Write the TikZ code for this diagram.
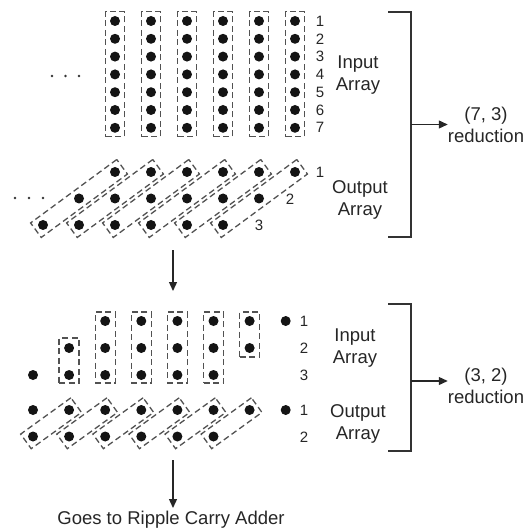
\documentclass[tikz,border=0pt]{standalone}
\usepackage{fontspec}
\setmainfont{Liberation Sans}
\usetikzlibrary{arrows.meta}
\begin{document}
\begin{tikzpicture}[x=1pt,y=-1pt,
  dot/.style={circle,fill=black!92,inner sep=0pt,minimum size=10pt},
  tinydot/.style={circle,fill=black!80,inner sep=0pt,minimum size=2.8pt},
  dbox/.style={draw=black!68,line width=1.3pt,dash pattern=on 6pt off 3.5pt,inner sep=0pt,rectangle},
  lbl/.style={font=\fontsize{18.5}{22}\selectfont,text=black!85,inner sep=0pt,align=center},
  num/.style={font=\fontsize{15}{16}\selectfont,text=black!85,inner sep=0pt},
  brk/.style={draw=black!80,line width=1.4pt},
  arr/.style={draw=black!85,line width=1.3pt,-{Triangle[width=8pt,length=9pt]}}]
\useasboundingbox (0,0) rectangle (532,529);

% ---------- top: input array ----------
\foreach \i in {0,...,5}{
  \node[dbox,minimum width=18.6pt,minimum height=125pt] (tib\i) at ({115+36*\i},74.2) {};
  \foreach \k in {0,...,6}{
    \node[dot] (ti\i-\k) at ({115+36*\i},{21+17.8*\k}) {};
  }
}
\foreach \k [evaluate=\k as \n using int(\k+1)] in {0,...,6}{
  \node[num] (tin\k) at (320,{21+17.8*\k}) {\n};
}
\node[tinydot] (tea) at (52,76) {};
\node[tinydot] (teb) at (65.5,76) {};
\node[tinydot] (tec) at (79,76) {};

% ---------- top: output array ----------
\foreach \j in {0,...,5}{
  \node[dbox,rotate=36.36,minimum width=107pt,minimum height=18pt] (tob\j) at ({79+36*\j},198.5) {};
  \node[dot] (to3-\j) at ({43+36*\j},225) {};
  \node[dot] (to2-\j) at ({79+36*\j},198.5) {};
  \node[dot] (to1-\j) at ({115+36*\j},172) {};
}
\node[num] (ton1) at (320,172) {1};
\node[num] (ton2) at (290,199) {2};
\node[num] (ton3) at (259,225) {3};
\node[tinydot] (toa) at (15,198) {};
\node[tinydot] (tob) at (29,198) {};
\node[tinydot] (toc) at (43,198) {};

\node[lbl] (tin) at (358,75) {Input\\Array};
\node[lbl] (tout) at (360,200) {Output\\Array};
\node[lbl] (tr) at (486,125) {(7, 3)\\reduction};

\coordinate (b1a) at (388,12);
\coordinate (b1b) at (411,12);
\coordinate (b1c) at (411,237);
\coordinate (b1d) at (388,237);
\coordinate (b1m) at (411,124.5);
\draw[brk] (b1a) -- (b1b) -- (b1c) -- (b1d);
\draw[arr] (b1m) -- (b1m -| tr.west);

\coordinate (d1s) at (173,250);
\coordinate (d1e) at (173,291);
\draw[arr] (d1s) -- (d1e);

% ---------- bottom: input array ----------
\node[dot] (bi3-0) at (33,375) {};
\node[dbox,minimum width=20pt,minimum height=45pt] (bib1) at (69.1,360.5) {};
\node[dot] (bi2-1) at (69.1,348) {};
\node[dot] (bi3-1) at (69.1,375) {};
\foreach \c in {2,...,5}{
  \node[dbox,minimum width=20pt,minimum height=71pt] (bib\c) at ({33+36.1*\c},347.5) {};
  \node[dot] (bi1-\c) at ({33+36.1*\c},321) {};
  \node[dot] (bi2-\c) at ({33+36.1*\c},348) {};
  \node[dot] (bi3-\c) at ({33+36.1*\c},375) {};
}
\node[dbox,minimum width=20pt,minimum height=45pt] (bib6) at (249.6,334.5) {};
\node[dot] (bi1-6) at (249.6,321) {};
\node[dot] (bi2-6) at (249.6,348) {};
\node[dot] (bi1-7) at (285.7,321) {};

% ---------- bottom: output array ----------
\foreach \c in {0,...,5}{
  \node[dbox,rotate=35.84,minimum width=62pt,minimum height=18pt] (bob\c) at ({51.05+36.1*\c},423.25) {};
  \node[dot] (bo2-\c) at ({33+36.1*\c},436.5) {};
  \node[dot] (bo1-\c) at ({69.1+36.1*\c},410) {};
}
\node[dot] (bo1-s) at (33,410) {};
\node[dot] (bo1-e) at (285.7,410) {};

\node[num] (bin1) at (304,321) {1};
\node[num] (bin2) at (304,348) {2};
\node[num] (bin3) at (304,375) {3};
\node[num] (bon1) at (304,410) {1};
\node[num] (bon2) at (304,437) {2};

\node[lbl] (bin) at (355,348) {Input\\Array};
\node[lbl] (bout) at (358,424) {Output\\Array};
\node[lbl] (br) at (486,386) {(3, 2)\\reduction};

\coordinate (b2a) at (388,304);
\coordinate (b2b) at (411,304);
\coordinate (b2c) at (411,451);
\coordinate (b2d) at (388,451);
\coordinate (b2m) at (411,381);
\draw[brk] (b2a) -- (b2b) -- (b2c) -- (b2d);
\draw[arr] (b2m) -- (b2m -| br.west);

\coordinate (d2s) at (173,460);
\coordinate (d2e) at (173,508);
\draw[arr] (d2s) -- (d2e);
\node[lbl] (goes) at (171,520) {Goes to Ripple Carry Adder};
\end{tikzpicture}
\end{document}
